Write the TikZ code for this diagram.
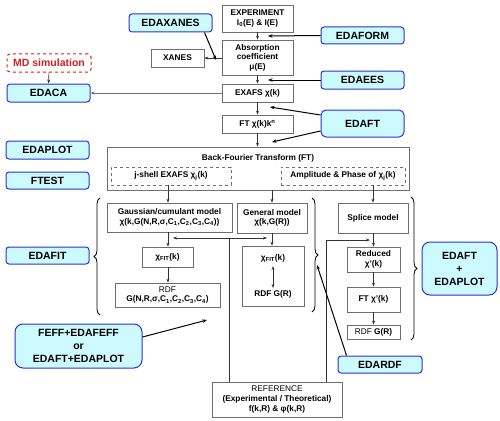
\documentclass[tikz,border=0pt]{standalone}
\usepackage{fontspec}
\setmainfont{Liberation Sans}
\usetikzlibrary{arrows.meta,decorations.pathreplacing,calc}
\definecolor{boxgray}{RGB}{110,110,110}
\definecolor{edablue}{RGB}{40,50,220}
\definecolor{edacyan}{RGB}{205,250,255}
\definecolor{mdred}{RGB}{215,30,30}
\begin{document}
\begin{tikzpicture}[x=1pt,y=-1pt,
 box/.style={draw=boxgray,line width=0.7pt,fill=white,align=center,inner sep=1pt,font=\fontsize{8.3}{9.6}\selectfont\bfseries},
 dbox/.style={box,dashed},
 bbox/.style={draw=edablue,line width=1pt,fill=edacyan,rounded corners=3pt,align=center,inner sep=1pt,font=\fontsize{10.5}{13}\selectfont\bfseries},
 txt/.style={inner sep=0pt,align=center,font=\fontsize{8.3}{9.6}\selectfont\bfseries},
 arr/.style={-{Stealth[length=4pt,width=3pt]},line width=0.6pt,black!80},
 barr/.style={-{Stealth[length=4.5pt,width=3.5pt]},line width=1pt,black},
 brc/.style={decorate,decoration={brace,amplitude=6pt},line width=0.8pt}
]
\useasboundingbox (0,0) rectangle (500,420);
% main column
\node[box,minimum width=71pt,minimum height=27pt] (exp) at (257.5,18.5) {EXPERIMENT\\I\textsubscript{0}(E) \& I(E)};
\node[box,minimum width=71pt,minimum height=35pt] (abs) at (257.5,57.5) {Absorption\\coefficient\\μ(E)};
\node[box,minimum width=71pt,minimum height=18pt] (exafs) at (257.5,93) {EXAFS χ(k)};
\node[box,minimum width=71pt,minimum height=18pt] (ft) at (257.5,124) {FT χ(k)k\textsuperscript{n}};
\node[box,minimum width=53pt,minimum height=18pt] (xanes) at (177.5,58) {XANES};
% back-FT
\node[box,minimum width=302pt,minimum height=43pt] (bft) at (258,168.5) {};
\node[txt] (bfttxt) at (258,158) {Back-Fourier Transform (FT)};
\node[dbox,minimum width=120pt,minimum height=18pt] (jshell) at (171,176) {j-shell EXAFS χ\textsubscript{j}(k)};
\node[dbox,minimum width=124pt,minimum height=18pt] (amp) at (343,176) {Amplitude \& Phase of χ\textsubscript{j}(k)};
% models
\node[box,minimum width=125pt,minimum height=29pt] (gauss) at (169.5,217.5) {Gaussian/cumulant model\\χ(k,G(N,R,σ,C\textsubscript{1},C\textsubscript{2},C\textsubscript{3},C\textsubscript{4}))};
\node[box,minimum width=70pt,minimum height=30pt] (general) at (272,218) {General model\\χ(k,G(R))};
\node[box,minimum width=70pt,minimum height=30pt] (splice) at (373,218) {Splice model};
\node[box,minimum width=51pt,minimum height=20pt] (fitL) at (167.5,257) {χ\textsubscript{FIT}(k)};
\node[box,minimum width=105pt,minimum height=24pt] (rdfL) at (167.5,295) {{\mdseries RDF}\\G(N,R,σ,C\textsubscript{1},C\textsubscript{2},C\textsubscript{3},C\textsubscript{4})};
\node[box,minimum width=62pt,minimum height=60pt] (fitR) at (273,276) {};
\node[txt] (fitRtxt) at (273,258) {χ\textsubscript{FIT}(k)};
\node[txt] (rdfRtxt) at (273,294) {RDF G(R)};
\node[box,minimum width=53pt,minimum height=25pt] (reduced) at (373.5,259.5) {Reduced\\χ'(k)};
\node[box,minimum width=53pt,minimum height=25pt] (ftp) at (373.5,299.5) {FT χ'(k)};
\node[box,minimum width=53pt,minimum height=14pt] (rdfS) at (373.5,332) {{\mdseries RDF} G(R)};
\node[box,minimum width=130pt,minimum height=35pt] (ref) at (277,399.5) {{\mdseries REFERENCE}\\(Experimental / Theoretical)\\f(k,R) \& φ(k,R)};
% blue boxes
\node[bbox,minimum width=83pt,minimum height=18pt] (edaxanes) at (170.5,23) {EDAXANES};
\node[bbox,minimum width=83pt,minimum height=17pt] (edaform) at (362.5,35.5) {EDAFORM};
\node[bbox,minimum width=83pt,minimum height=18pt] (edaees) at (362.5,80) {EDAEES};
\node[bbox,minimum width=83pt,minimum height=27pt,rounded corners=5pt] (edaft) at (362.5,123.5) {EDAFT};
\node[bbox,draw=mdred,fill=white,dashed,text=mdred,minimum width=84pt,minimum height=18pt] (md) at (49,63) {MD simulation};
\node[bbox,minimum width=83pt,minimum height=18pt] (edaca) at (48.5,93) {EDACA};
\node[bbox,minimum width=83pt,minimum height=18pt] (edaplot) at (47.5,150) {EDAPLOT};
\node[bbox,minimum width=83pt,minimum height=17pt] (ftest) at (47.5,180.5) {FTEST};
\node[bbox,minimum width=83pt,minimum height=17pt] (edafit) at (47.5,255.5) {EDAFIT};
\node[bbox,minimum width=127pt,minimum height=44pt,rounded corners=8pt] (feff) at (78.5,346) {FEFF+EDAFEFF\\or\\EDAFT+EDAPLOT};
\node[bbox,minimum width=75pt,minimum height=53pt,rounded corners=8pt] (edaftplot) at (459.5,268.5) {EDAFT\\+\\EDAPLOT};
\node[bbox,minimum width=84pt,minimum height=17pt] (edardf) at (380,364.5) {EDARDF};
% braces
\draw[brc] (100,315) -- (100,198);
\draw[brc] (312,198) -- (312,312);
\draw[brc] (411,197) -- (411,340);
% coordinates
\coordinate (cxa) at (216,60);
\coordinate (cform) at (268,36);
\coordinate (cees) at (268,80);
\coordinate (cft1) at (270,107);
\coordinate (cft2) at (272,142);
\coordinate (cfeff) at (207,320);
\coordinate (crdf) at (317,265);
\coordinate (j1) at (229,238);
\coordinate (j1l) at (173,238);
\coordinate (j1r) at (267,238);
\coordinate (j2) at (326,240);
\coordinate (j2r) at (370,240);
\coordinate (cx) at (168,0);
% main flow
\draw[arr] (exp) -- (abs);
\draw[arr] (abs) -- (exafs);
\draw[arr] (exafs) -- (ft);
\draw[arr] (ft.south) -- (ft.south |- bft.north);
\draw[arr] (abs.west |- xanes) -- (xanes.east);
\draw[arr,boxgray] (exafs.west) -- (edaca.east);
\draw[arr] (md) -- (edaca);
\draw[arr] (jshell.south -| cx) -- (gauss.north -| cx);
\draw[arr] (bft.south -| general) -- (general.north);
\draw[arr] (amp.south -| splice) -- (splice.north);
\draw[arr] (gauss.south -| cx) -- (fitL.north -| cx);
\draw[arr] (fitL.south -| cx) -- (rdfL.north -| cx);
\draw[arr] (general.south) -- (general.south |- fitR.north);
\draw[{Stealth[length=4pt,width=3pt]}-{Stealth[length=4pt,width=3pt]},line width=0.6pt,black!80] ($(fitRtxt.south)+(0,4)$) -- ($(rdfRtxt.north)+(0,-2)$);
\draw[arr] (splice.south -| reduced) -- (reduced.north);
\draw[arr] (reduced) -- (ftp);
\draw[arr] (ftp.south) -- (ftp.south |- rdfS.north);
% reference lines
\draw[line width=0.6pt,black!80] (ref.north -| j1) -- (j1);
\draw[arr] (j1) -- (j1l);
\draw[arr] (j1) -- (j1r);
\draw[arr] (ref.north -| j2) |- (j2r);
% tool arrows
\draw[barr] ($(edaxanes.south east)+(-8,0)$) -- (cxa);
\draw[barr] (edaform.west) -- (cform);
\draw[barr] (edaees.west) -- (cees);
\draw[barr] ($(edaft.west)+(0,-8.5)$) -- (cft1);
\draw[barr] ($(edaft.west)+(0,7.5)$) -- (cft2);
\draw[barr] ($(feff.east)+(0,-9)$) -- (cfeff);
\draw[barr] ($(edardf.north west)+(9,0)$) -- (crdf);
\end{tikzpicture}
\end{document}
